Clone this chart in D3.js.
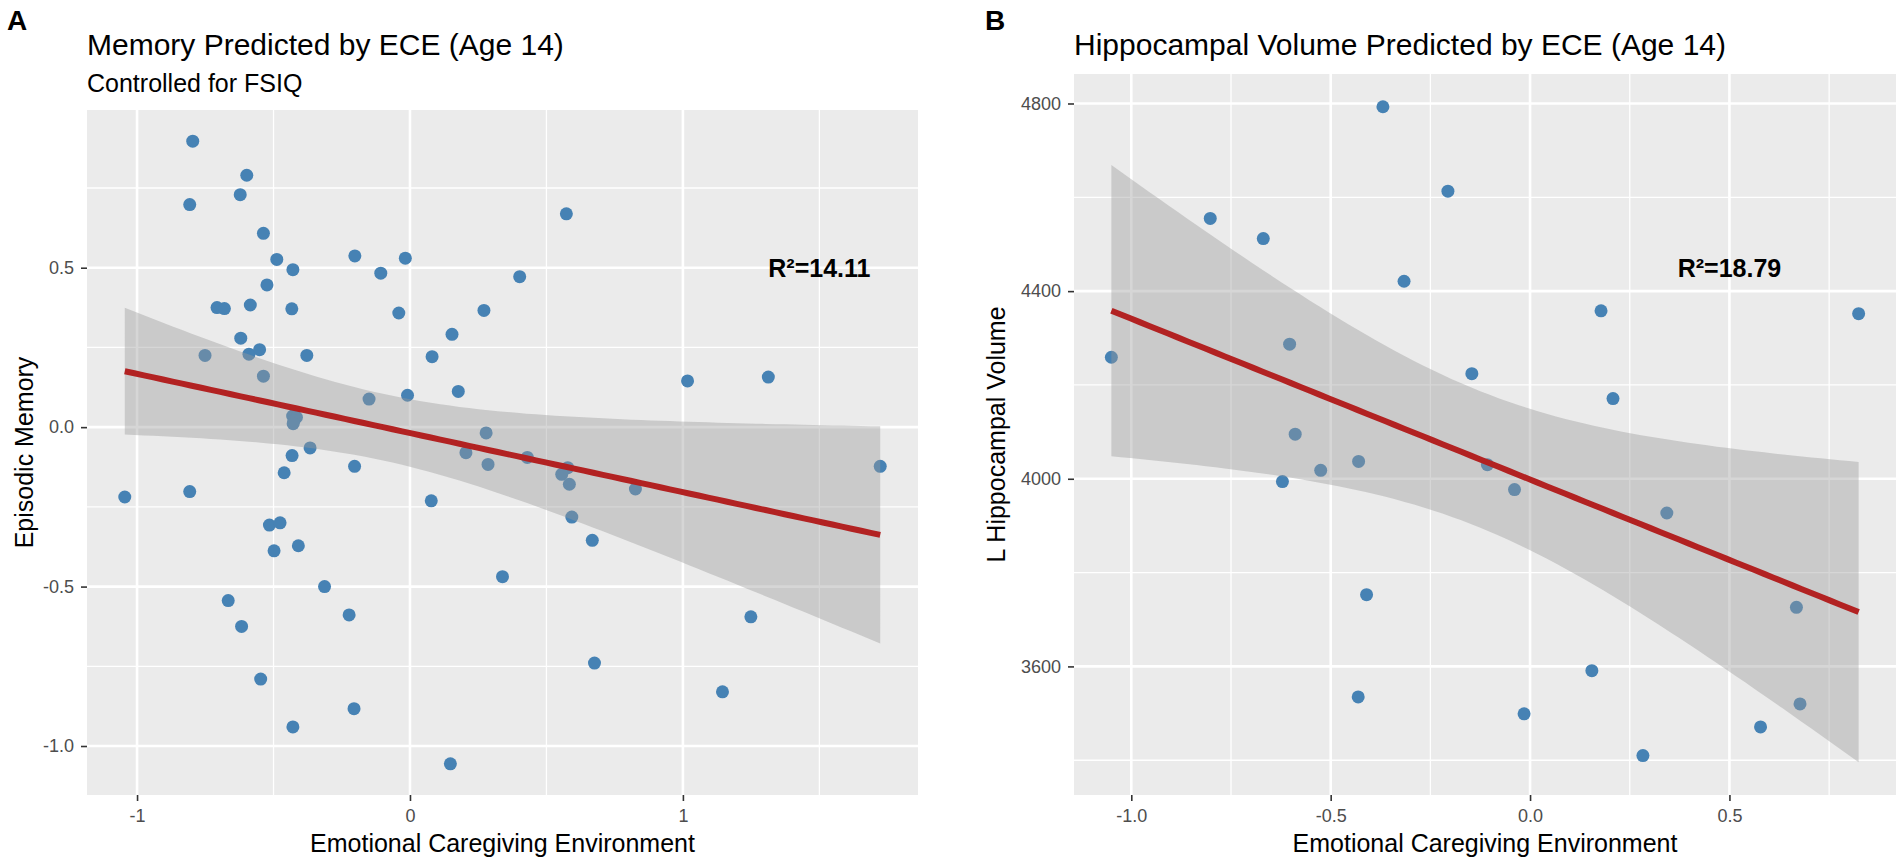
<!DOCTYPE html>
<html>
<head>
<meta charset="utf-8">
<script src="https://cdn.jsdelivr.net/npm/d3@7"></script>
<style>
  body { margin: 0; background: #ffffff; }
  svg text { font-family: "Liberation Sans", Arial, Helvetica, sans-serif; }
</style>
</head>
<body>
<div id="chart-div"></div>
<script>
// Panel A: episodic memory vs ECE (one value per child)
var memory_x = [
  -0.796, -0.807, -0.598, -0.622, -0.537, -0.488, -0.429, -0.524, -0.707, -0.680,
  -0.585, -0.433, -0.202, -0.107, -0.017, -0.041, 0.081, 0.154, 0.271, 0.402,
  0.573, -0.620, -0.751, -0.590, -0.551, -0.537, -0.378, 0.177, -0.009, -0.150,
  -0.430, -0.416, -0.425, -0.428, -0.366, -0.432, -0.461, -0.203, 0.205, 0.279,
  -1.045, -0.807, 0.078, -0.515, -0.476, -0.498, -0.409, -0.313, -0.666, -0.617,
  -0.223, 1.017, 0.286, 0.430, 0.578, 0.556, 0.584, 0.826, 0.593, 0.668,
  0.339, -0.547, -0.429, -0.205, 0.148, 0.676, 1.145, 1.249, 1.313, 1.723
];
var memory_y = [
  0.897, 0.698, 0.790, 0.729, 0.608, 0.526, 0.494, 0.446, 0.375, 0.372,
  0.383, 0.371, 0.537, 0.483, 0.530, 0.358, 0.221, 0.291, 0.366, 0.472,
  0.669, 0.279, 0.225, 0.229, 0.243, 0.160, 0.225, 0.112, 0.100, 0.088,
  0.035, 0.031, 0.020, 0.011, -0.065, -0.089, -0.143, -0.123, -0.080, -0.018,
  -0.219, -0.202, -0.231, -0.307, -0.300, -0.388, -0.372, -0.500, -0.544, -0.625,
  -0.589, 0.145, -0.117, -0.095, -0.127, -0.148, -0.179, -0.194, -0.282, -0.355,
  -0.469, -0.790, -0.940, -0.883, -1.056, -0.740, -0.830, -0.595, 0.157, -0.123
];

// Panel B: left hippocampal volume vs ECE
var hippo_x = [
  -1.050, -0.802, -0.669, -0.369, -0.206, -0.316, -0.603, -0.589, 0.178, -0.146,
  0.208, 0.824, -0.430, -0.525, -0.621, -0.410, -0.431, -0.107, -0.039, 0.343,
  0.668, 0.155, -0.015, 0.283, 0.578, 0.677
];
var hippo_y = [
  4259, 4555, 4512, 4793, 4613, 4421, 4287, 4095, 4358, 4224,
  4171, 4352, 4037, 4018, 3994, 3753, 3535, 4030, 3977, 3927,
  3726, 3591, 3499, 3410, 3471, 3520
];

var memory_x_ticks = [-1, 0, 1];
var memory_x_labels = ["-1", "0", "1"];
var memory_x_minor = [-0.5, 0.5, 1.5];
var memory_y_ticks = [-1, -0.5, 0, 0.5];
var memory_y_labels = ["-1.0", "-0.5", "0.0", "0.5"];
var memory_y_minor = [-0.75, -0.25, 0.25, 0.75];

var hippo_x_ticks = [-1, -0.5, 0, 0.5];
var hippo_x_labels = ["-1.0", "-0.5", "0.0", "0.5"];
var hippo_x_minor = [-0.75, -0.25, 0.25, 0.75];
var hippo_y_ticks = [3600, 4000, 4400, 4800];
var hippo_y_labels = ["3600", "4000", "4400", "4800"];
var hippo_y_minor = [3400, 3800, 4200, 4600];

var memory_r2 = { x: 1.5, y: 0.5, label: "R\u00b2=14.11" };
var hippo_r2 = { x: 0.5, y: 4450, label: "R\u00b2=18.79" };

var fn = {};
var vars = {};

vars.width = 1903;
vars.height = 865;

vars.panels = [
  {
    tag: "A", tag_x: 7,
    title: "Memory Predicted by ECE (Age 14)",
    subtitle: "Controlled for FSIQ",
    y_title: "Episodic Memory",
    y_title_x: 33,
    left: 87, right: 918, top: 110, bottom: 795,
    xs: memory_x, ys: memory_y,
    x_ticks: memory_x_ticks, x_labels: memory_x_labels, x_minor: memory_x_minor,
    y_ticks: memory_y_ticks, y_labels: memory_y_labels, y_minor: memory_y_minor,
    r2: memory_r2
  },
  {
    tag: "B", tag_x: 985,
    title: "Hippocampal Volume Predicted by ECE (Age 14)",
    subtitle: null,
    y_title: "L Hippocampal Volume",
    y_title_x: 1005,
    left: 1074, right: 1896, top: 74, bottom: 795,
    xs: hippo_x, ys: hippo_y,
    x_ticks: hippo_x_ticks, x_labels: hippo_x_labels, x_minor: hippo_x_minor,
    y_ticks: hippo_y_ticks, y_labels: hippo_y_labels, y_minor: hippo_y_minor,
    r2: hippo_r2
  }
];

// two-sided 95% t quantile (Cornish-Fisher expansion, good enough for df > 10)
fn.t_quantile = function(df) {
  var z = 1.959964;
  return z + (Math.pow(z, 3) + z) / (4 * df) +
    (5 * Math.pow(z, 5) + 16 * Math.pow(z, 3) + 3 * z) / (96 * df * df);
};

// ordinary least squares with 95% confidence band, like geom_smooth(method = "lm")
fn.linear_fit = function(xs, ys) {
  var n = xs.length;
  var mx = d3.mean(xs), my = d3.mean(ys);
  var sxx = d3.sum(xs, function(x) { return (x - mx) * (x - mx); });
  var sxy = d3.sum(xs, function(x, i) { return (x - mx) * (ys[i] - my); });
  var b = sxy / sxx;
  var a = my - b * mx;
  var sse = d3.sum(xs, function(x, i) {
    var r = ys[i] - (a + b * x);
    return r * r;
  });
  var s = Math.sqrt(sse / (n - 2));
  var t = fn.t_quantile(n - 2);
  var ext = d3.extent(xs);

  return d3.range(80).map(function(i) {
    var x = ext[0] + i * (ext[1] - ext[0]) / 79;
    var fit = a + b * x;
    var se = s * Math.sqrt(1 / n + (x - mx) * (x - mx) / sxx);
    return { x: x, fit: fit, lo: fit - t * se, hi: fit + t * se };
  });
};

fn.expand = function(ext) {
  var pad = (ext[1] - ext[0]) * 0.05;
  return [ext[0] - pad, ext[1] + pad];
};

fn.draw_panel = function(svg, p) {
  var band = fn.linear_fit(p.xs, p.ys);

  var y_ext = [
    Math.min(d3.min(p.ys), d3.min(band, function(d) { return d.lo; })),
    Math.max(d3.max(p.ys), d3.max(band, function(d) { return d.hi; }))
  ];

  var x_scale = d3.scaleLinear()
    .domain(fn.expand(d3.extent(p.xs)))
    .range([p.left, p.right]);

  var y_scale = d3.scaleLinear()
    .domain(fn.expand(y_ext))
    .range([p.bottom, p.top]);

  var g = svg.append("g").attr("class", "panel");

  g.append("rect")
    .attr("x", p.left)
    .attr("y", p.top)
    .attr("width", p.right - p.left)
    .attr("height", p.bottom - p.top)
    .attr("fill", "#ebebeb");

  // grid: minor first, then major
  var grid = g.append("g").attr("stroke", "#ffffff");

  grid.selectAll("line.vminor").data(p.x_minor).enter().append("line")
    .attr("class", "vminor")
    .attr("x1", x_scale).attr("x2", x_scale)
    .attr("y1", p.top).attr("y2", p.bottom)
    .attr("stroke-width", 1.3);

  grid.selectAll("line.hminor").data(p.y_minor).enter().append("line")
    .attr("class", "hminor")
    .attr("y1", y_scale).attr("y2", y_scale)
    .attr("x1", p.left).attr("x2", p.right)
    .attr("stroke-width", 1.3);

  grid.selectAll("line.vmajor").data(p.x_ticks).enter().append("line")
    .attr("class", "vmajor")
    .attr("x1", x_scale).attr("x2", x_scale)
    .attr("y1", p.top).attr("y2", p.bottom)
    .attr("stroke-width", 2.6);

  grid.selectAll("line.hmajor").data(p.y_ticks).enter().append("line")
    .attr("class", "hmajor")
    .attr("y1", y_scale).attr("y2", y_scale)
    .attr("x1", p.left).attr("x2", p.right)
    .attr("stroke-width", 2.6);

  g.append("g").selectAll("circle")
    .data(p.xs)
    .enter().append("circle")
    .attr("cx", function(d) { return x_scale(d); })
    .attr("cy", function(d, i) { return y_scale(p.ys[i]); })
    .attr("r", 6.5)
    .attr("fill", "#4682b4");

  var area = d3.area()
    .x(function(d) { return x_scale(d.x); })
    .y0(function(d) { return y_scale(d.lo); })
    .y1(function(d) { return y_scale(d.hi); });

  g.append("path")
    .datum(band)
    .attr("d", area)
    .attr("fill", "#999999")
    .attr("fill-opacity", 0.4);

  var line = d3.line()
    .x(function(d) { return x_scale(d.x); })
    .y(function(d) { return y_scale(d.fit); });

  g.append("path")
    .datum(band)
    .attr("d", line)
    .attr("fill", "none")
    .attr("stroke", "#b22222")
    .attr("stroke-width", 6);

  g.append("text")
    .attr("x", x_scale(p.r2.x))
    .attr("y", y_scale(p.r2.y))
    .attr("dy", "0.36em")
    .attr("text-anchor", "middle")
    .attr("font-size", "25px")
    .attr("font-weight", "bold")
    .attr("fill", "#000000")
    .text(p.r2.label);

  // axes
  var x_axis = g.append("g")
    .attr("transform", "translate(0," + p.bottom + ")")
    .call(d3.axisBottom(x_scale)
      .tickValues(p.x_ticks)
      .tickFormat(function(d, i) { return p.x_labels[i]; })
      .tickSize(6)
      .tickPadding(8));

  var y_axis = g.append("g")
    .attr("transform", "translate(" + p.left + ",0)")
    .call(d3.axisLeft(y_scale)
      .tickValues(p.y_ticks)
      .tickFormat(function(d, i) { return p.y_labels[i]; })
      .tickSize(6)
      .tickPadding(7));

  [x_axis, y_axis].forEach(function(ax) {
    ax.select(".domain").remove();
    ax.selectAll(".tick line").attr("stroke", "#333333").attr("stroke-width", 1.6);
    ax.selectAll(".tick text")
      .attr("fill", "#4d4d4d")
      .attr("font-size", "18px")
      .attr("font-family", null);
  });

  // titles
  svg.append("text")
    .attr("x", p.tag_x)
    .attr("y", 30)
    .attr("font-size", "28px")
    .attr("font-weight", "bold")
    .text(p.tag);

  svg.append("text")
    .attr("x", p.left)
    .attr("y", 55)
    .attr("font-size", "30px")
    .attr("fill", "#000000")
    .text(p.title);

  if (p.subtitle) {
    svg.append("text")
      .attr("x", p.left)
      .attr("y", 92)
      .attr("font-size", "25px")
      .attr("fill", "#000000")
      .text(p.subtitle);
  }

  svg.append("text")
    .attr("x", (p.left + p.right) / 2)
    .attr("y", 852)
    .attr("text-anchor", "middle")
    .attr("font-size", "25px")
    .text("Emotional Caregiving Environment");

  svg.append("text")
    .attr("transform", "translate(" + p.y_title_x + "," + (p.top + p.bottom) / 2 + ") rotate(-90)")
    .attr("text-anchor", "middle")
    .attr("font-size", "25px")
    .text(p.y_title);
};

fn.main = function() {
  var svg = d3.select("#chart-div")
    .append("svg")
    .attr("width", vars.width)
    .attr("height", vars.height);

  svg.append("rect")
    .attr("width", vars.width)
    .attr("height", vars.height)
    .attr("fill", "#ffffff");

  vars.panels.forEach(function(p) {
    fn.draw_panel(svg, p);
  });
};

fn.main();
</script>
</body>
</html>
